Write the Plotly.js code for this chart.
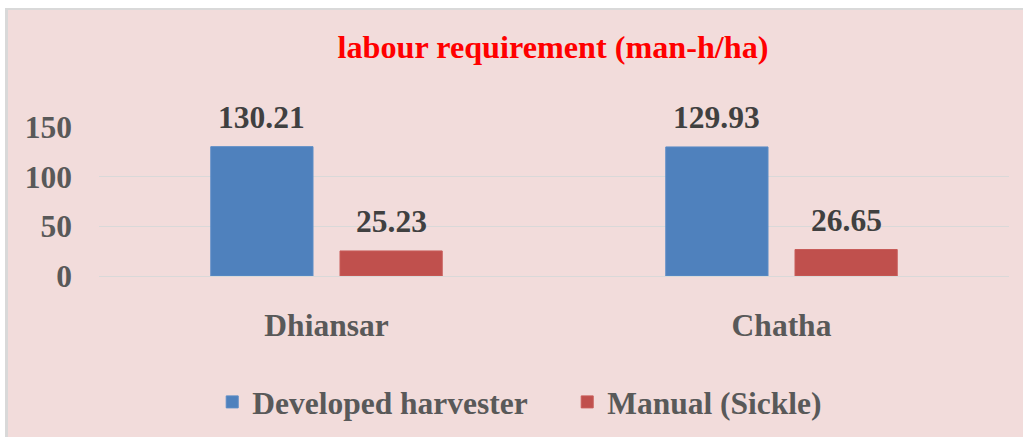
<!DOCTYPE html>
<html>
<head>
<meta charset="utf-8">
<script src="https://cdn.plot.ly/plotly-3.0.1.min.js"></script>
<style>
html,body{margin:0;padding:0;background:#ffffff;}
#chart{width:1023px;height:437px;}
</style>
</head>
<body>
<div id="chart"></div>
<script>
const categories = ["Dhiansar", "Chatha"];
const seriesNames = ["Developed harvester", "Manual (Sickle)"];
const harvesterValues = [130.21, 129.93];
const manualValues = [25.23, 26.65];
const yTickValues = [0, 50, 100, 150];
const chartTitle = "labour requirement (man-h/ha)";

const FONT = "Liberation Serif, Times New Roman, serif";
const BLUE = "#4F81BD";
const RED = "#C0504D";
const FS = 31.5;

const traces = [
  {
    type: "bar", name: seriesNames[0], x: categories, y: harvesterValues,
    marker: {color: BLUE, line: {color: "#5B8CC6", width: 1}},
    hoverinfo: "skip"
  },
  {
    type: "bar", name: seriesNames[1], x: categories, y: manualValues,
    marker: {color: RED, line: {color: "#C85C59", width: 1}},
    hoverinfo: "skip"
  }
];

const annotations = [];
const offsets = [-0.5, 0.5];
[harvesterValues, manualValues].forEach((vals, s) => {
  vals.forEach((v, i) => {
    annotations.push({
      x: i + offsets[s] * 0.284, xref: "x", y: v, yref: "y",
      text: "<b>" + v.toFixed(2) + "</b>", showarrow: false, yanchor: "bottom",
      yshift: 10,
      font: {family: FONT, size: FS, color: "#404040"}
    });
  });
});

const layout = {
  width: 1023, height: 437,
  paper_bgcolor: "#F2DCDB", plot_bgcolor: "rgba(0,0,0,0)",
  margin: {l: 99, r: 14, t: 127, b: 161, pad: 0, autoexpand: false},
  font: {family: FONT},
  title: {
    text: "<b>" + chartTitle + "</b>",
    font: {family: FONT, size: 32.2, color: "#FF0000"},
    x: 0.5406, xanchor: "center", y: 0.892, yanchor: "middle"
  },
  barmode: "group", bargap: 0.432, bargroupgap: 0.209,
  xaxis: {
    type: "category", showgrid: false, zeroline: false, showline: false,
    automargin: false,
    ticks: "", ticklabelstandoff: 27,
    tickfont: {family: FONT, size: FS, color: "#595959", weight: "bold"}
  },
  yaxis: {
    range: [0, 150], tickvals: yTickValues, showgrid: true, automargin: false,
    gridcolor: "#D9D9D9", gridwidth: 1, zeroline: true, zerolinecolor: "#D9D9D9",
    showline: false, ticks: "", ticklabelstandoff: 26,
    tickfont: {family: FONT, size: FS, color: "#595959", weight: "bold"}
  },
  showlegend: true,
  legend: {
    orientation: "h", x: 0.1244, xanchor: "left", y: -0.845, yanchor: "middle",
    font: {family: FONT, size: FS, color: "#595959", weight: "bold"},
    bgcolor: "rgba(0,0,0,0)", itemwidth: 30, traceorder: "normal",
    entrywidth: 310
  },
  annotations: annotations,
  shapes: [
    {type: "rect", xref: "paper", yref: "paper", x0: -99/910, x1: 1 + 14/910,
     y0: 1 + (127 - 9)/149, y1: 1 + 127/149, fillcolor: "#ffffff", line: {width: 0}, layer: "below"},
    {type: "rect", xref: "paper", yref: "paper", x0: -99/910, x1: 1 + 14/910,
     y0: 1 + (127 - 10)/149, y1: 1 + (127 - 8)/149, fillcolor: "#D9D9D9", line: {width: 0}, layer: "below"},
    {type: "rect", xref: "paper", yref: "paper", x0: -99/910, x1: (5 - 99)/910,
     y0: -161/149, y1: 1 + 127/149, fillcolor: "#ffffff", line: {width: 0}, layer: "below"},
    {type: "rect", xref: "paper", yref: "paper", x0: (5 - 99)/910, x1: (8 - 99)/910,
     y0: -161/149, y1: 1 + (127 - 9)/149, fillcolor: "#D9D9D9", line: {width: 0}, layer: "below"}
  ]
};

Plotly.newPlot("chart", traces, layout, {displayModeBar: false, staticPlot: true});
</script>
</body>
</html>
